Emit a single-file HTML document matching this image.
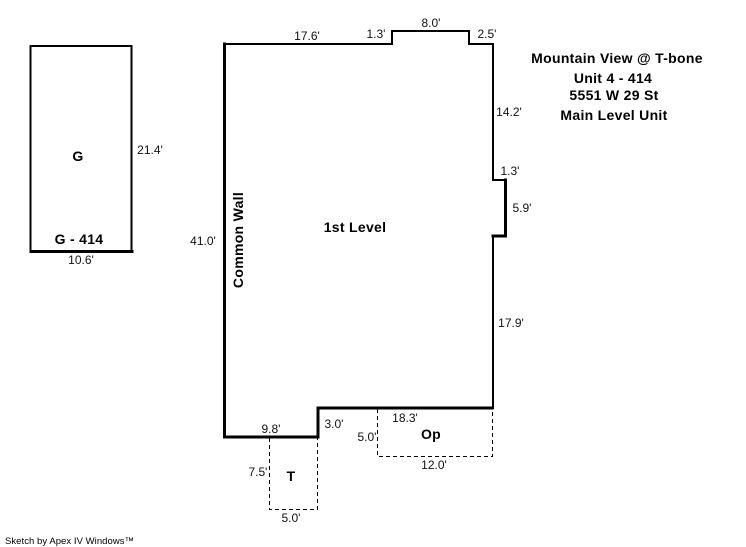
<!DOCTYPE html>
<html>
<head>
<meta charset="utf-8">
<style>
html,body{margin:0;padding:0;background:#fff;width:746px;height:547px;overflow:hidden}
svg{display:block}
text{font-family:"Liberation Sans",sans-serif;fill:#000}
.d{font-size:12px;text-anchor:middle;fill:#111}
.b{font-size:14px;font-weight:bold;text-anchor:middle;letter-spacing:.3px}
</style>
</head>
<body>
<svg width="746" height="547" viewBox="0 0 746 547" xmlns="http://www.w3.org/2000/svg">
<g fill="none" stroke="#000" stroke-width="1" stroke-dasharray="4 3">
<path d="M269.5 438V509.5H317.5V438"/>
<path d="M377.5 409V456.5H492.5V409"/>
</g>
<g fill="none" stroke="#000" stroke-linecap="square">
<path d="M30.5 251V46H131.5V251" stroke-width="2"/>
<path d="M31 251.5H132" stroke-width="3"/>
<path d="M224 44H392V31H469V44H493V180H505V236H493V408H318.5V437" stroke-width="2"/>
<path d="M505.5 180V236M493 236H505M319 408H492M318 408V437M224.5 44V437H317" stroke-width="3" />
</g>
<text class="d" x="307" y="40">17.6'</text>
<text class="d" x="376" y="38">1.3'</text>
<text class="d" x="431" y="27">8.0'</text>
<text class="d" x="487" y="38">2.5'</text>
<text class="d" x="509" y="116">14.2'</text>
<text class="d" x="510" y="175">1.3'</text>
<text class="d" x="522" y="212">5.9'</text>
<text class="d" x="511" y="327">17.9'</text>
<text class="d" x="405" y="422">18.3'</text>
<text class="d" x="334" y="428">3.0'</text>
<text class="d" x="367" y="441">5.0'</text>
<text class="d" x="434" y="469">12.0'</text>
<text class="d" x="271" y="433">9.8'</text>
<text class="d" x="258" y="476">7.5'</text>
<text class="d" x="291" y="522">5.0'</text>
<text class="d" x="150" y="154">21.4'</text>
<text class="d" x="203" y="245">41.0'</text>
<text class="d" x="81" y="264">10.6'</text>
<text class="b" x="78" y="161">G</text>
<text class="b" x="79" y="244">G - 414</text>
<text class="b" x="355" y="232">1st Level</text>
<text class="b" x="431" y="439">Op</text>
<text class="b" x="291" y="481">T</text>
<text class="b" transform="translate(243,240) rotate(-90)" x="0" y="0">Common Wall</text>
<text class="b" x="617" y="63">Mountain View @ T-bone</text>
<text class="b" x="613" y="83">Unit 4 - 414</text>
<text class="b" x="614" y="100">5551 W 29 St</text>
<text class="b" x="614" y="120">Main Level Unit</text>
<text x="5" y="544" style="font-size:9.5px;letter-spacing:.05px">Sketch by Apex IV Windows™</text>
</svg>
</body>
</html>
